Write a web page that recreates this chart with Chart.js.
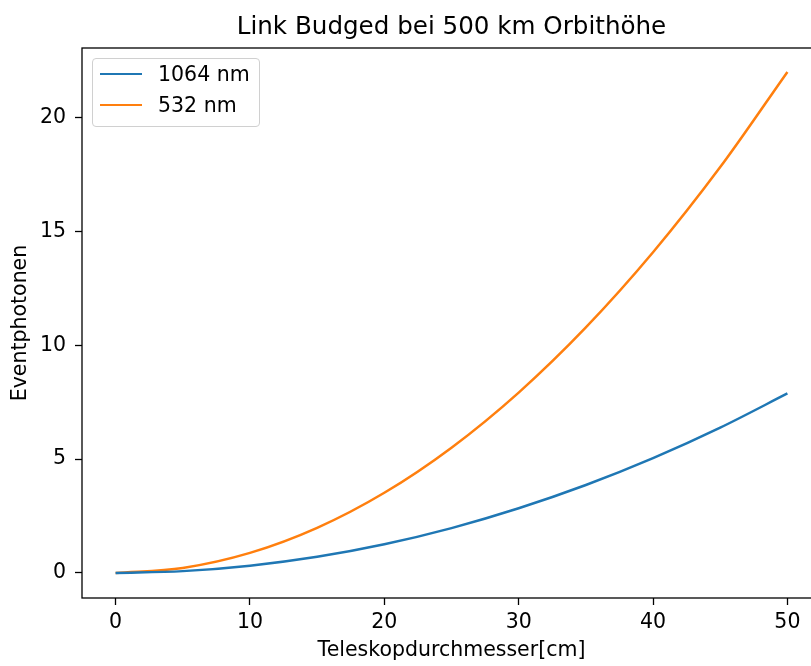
<!DOCTYPE html>
<html>
<head>
<meta charset="utf-8">
<script src="https://cdn.jsdelivr.net/npm/chart.js@4"></script>
<style>
  body { margin: 0; background: #fff; overflow: hidden; }
  #wrap { position: relative; width: 830px; height: 666px; }
  #legend {
    position: absolute; left: 92px; top: 58px; width: 168px; height: 69px; box-sizing: border-box;
    border: 1px solid #d0d0d0; border-radius: 4px; background: rgba(255,255,255,0.8);
    font-family: "DejaVu Sans", sans-serif; font-size: 20.5px; color: #000;
  }
  .item { position: absolute; left: 0; height: 0; }
  .item span.ln { position: absolute; left: 7px; top: -1.25px; width: 42px; height: 2.5px; }
  .item span.tx { position: absolute; left: 65px; top: -13px; line-height: 26px; white-space: nowrap; }
</style>
</head>
<body>
<div id="wrap">
  <canvas id="chart" width="830" height="666"></canvas>
  <div id="legend">
    <div class="item" style="top:15px"><span class="ln" style="background:#1f77b4"></span><span class="tx">1064 nm</span></div>
    <div class="item" style="top:46px"><span class="ln" style="background:#ff7f0e"></span><span class="tx">532 nm</span></div>
  </div>
</div>
<script>
// Teleskopdurchmesser in cm
const durchmesser = [0, 5, 10, 15, 20, 25, 30, 35, 40, 45, 50];
// Eventphotonen
const photonen1064 = [0, 0.08, 0.32, 0.71, 1.26, 1.97, 2.84, 3.86, 5.04, 6.38, 7.88];
const photonen532 = [0, 0.22, 0.88, 1.98, 3.52, 5.50, 7.92, 10.78, 14.08, 17.82, 22.0];

const xTicks = [0, 10, 20, 30, 40, 50];
const yTicks = [0, 5, 10, 15, 20];

const schrift = "DejaVu Sans";

// Rahmen um die Achsen und Titel über der Plotfläche
const rahmenPlugin = {
  id: "rahmen",
  afterDraw(chart) {
    const ctx = chart.ctx;
    const a = chart.chartArea;
    ctx.save();
    ctx.strokeStyle = "#000";
    ctx.lineWidth = 1.3;
    ctx.strokeRect(a.left, a.top, a.right - a.left, a.bottom - a.top);
    ctx.fillStyle = "#000";
    ctx.font = "24.6px '" + schrift + "'";
    ctx.textAlign = "center";
    ctx.textBaseline = "alphabetic";
    ctx.fillText("Link Budged bei 500 km Orbithöhe", (a.left + a.right) / 2, 34);
    ctx.restore();
  }
};

function punkte(ys) {
  return durchmesser.map((x, i) => ({ x: x, y: ys[i] }));
}

const ctx = document.getElementById("chart").getContext("2d");
new Chart(ctx, {
  type: "line",
  data: {
    datasets: [
      {
        label: "1064 nm",
        data: punkte(photonen1064),
        borderColor: "#1f77b4",
        borderWidth: 2.5,
        pointRadius: 0,
        cubicInterpolationMode: "monotone"
      },
      {
        label: "532 nm",
        data: punkte(photonen532),
        borderColor: "#ff7f0e",
        borderWidth: 2.5,
        pointRadius: 0,
        cubicInterpolationMode: "monotone"
      }
    ]
  },
  options: {
    responsive: false,
    animation: false,
    layout: { padding: { top: 48, left: 0, right: 9, bottom: 0 } },
    plugins: {
      legend: { display: false },
      title: { display: false },
      tooltip: { enabled: false }
    },
    scales: {
      x: {
        type: "linear",
        min: -2.5,
        max: 52.5,
        afterBuildTicks: s => { s.ticks = xTicks.map(v => ({ value: v })); },
        afterFit: s => { s.height = 68; },
        grid: { drawOnChartArea: false, tickLength: 7, tickColor: "#000", tickWidth: 1.3 },
        border: { display: false },
        ticks: { color: "#000", padding: 5, maxRotation: 0, font: { family: schrift, size: 20.5 } },
        title: { display: true, text: "Teleskopdurchmesser[cm]", color: "#000",
          padding: { top: 0, bottom: 3 }, font: { family: schrift, size: 20.5 } }
      },
      y: {
        type: "linear",
        min: -1.1,
        max: 23.05,
        afterBuildTicks: s => { s.ticks = yTicks.map(v => ({ value: v })); },
        afterFit: s => { s.width = 82; },
        grid: { drawOnChartArea: false, tickLength: 7, tickColor: "#000", tickWidth: 1.3 },
        border: { display: false },
        ticks: { color: "#000", padding: 9, font: { family: schrift, size: 20.5 } },
        title: { display: true, text: "Eventphotonen", color: "#000",
          padding: { top: 8, bottom: 0 }, font: { family: schrift, size: 20.5 } }
      }
    }
  },
  plugins: [rahmenPlugin]
});
</script>
</body>
</html>
